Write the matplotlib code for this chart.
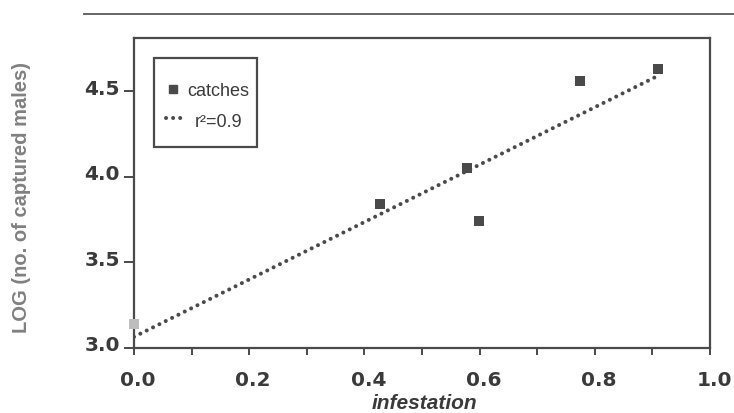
import matplotlib
matplotlib.use("Agg")
import matplotlib.pyplot as plt
import matplotlib.transforms as mtransforms
from matplotlib.lines import Line2D
from matplotlib.patches import Rectangle

# catches
infestation = [0.0, 0.427, 0.578, 0.599, 0.774, 0.910]
log_catches = [3.14, 3.84, 4.05, 3.74, 4.56, 4.63]

# regression line end points (r2 = 0.9)
fit_x = [0.0, 0.91]
fit_y = [3.065, 4.59]

x_ticks = [0.0, 0.2, 0.4, 0.6, 0.8, 1.0]
y_ticks = [3.0, 3.5, 4.0, 4.5]
legend_labels = ['catches', 'r\u00b2=0.9']

plt.rcParams['font.family'] = ['Liberation Sans', 'DejaVu Sans']

W, H = 734, 414
dark = '#4a4a4a'
txt = '#3a3a3a'
dotted = dict(color=dark, lw=2.9, dashes=(0.01, 1.75), dash_capstyle='round')

def fx(x):
    return x / W

def fy(y):
    return 1 - y / H

fig = plt.figure(figsize=(W / 100, H / 100), dpi=100)
ax = fig.add_axes([fx(134), fy(349), fx(710) - fx(134), fy(39) - fy(349)])

ax.plot(fit_x, fit_y, zorder=2, **dotted)
face = ['#bdbdbd'] + [dark] * (len(infestation) - 1)
ax.scatter(infestation, log_catches, marker='s', s=48, c=face,
           edgecolors='none', zorder=3, clip_on=False)

ax.set_xlim(0, 1.0)
ax.set_ylim(3.0, 4.81)
ax.set_xticks(x_ticks)
ax.set_xticklabels([f'{v:.1f}' for v in x_ticks])
ax.set_xticks([0.1, 0.3, 0.5, 0.7, 0.9], minor=True)
ax.set_yticks(y_ticks)
ax.set_yticklabels([f'{v:.1f}' for v in y_ticks])

for s in ax.spines.values():
    s.set_color(dark)
    s.set_linewidth(1.6)

ax.tick_params(axis='both', which='both', direction='out', color=dark,
               width=1.4, length=5, labelcolor=txt)
ax.tick_params(axis='x', pad=11)
ax.tick_params(axis='y', length=7, pad=3)
right = mtransforms.ScaledTranslation(4 / 100, 0, fig.dpi_scale_trans)
up = mtransforms.ScaledTranslation(0, 5 / 100, fig.dpi_scale_trans)
for lab in ax.get_xticklabels():
    lab.set_fontproperties(dict(family='DejaVu Sans', weight='bold', size=14.5))
    lab.set_transform(lab.get_transform() + right)
for lab in ax.get_yticklabels():
    lab.set_fontproperties(dict(family='DejaVu Sans', weight='bold', size=14.5))
    lab.set_transform(lab.get_transform() + up)

ax.set_xlabel('infestation', fontsize=15, fontweight='bold', style='italic',
              color=txt)
ax.xaxis.set_label_coords(0.505, -0.145)
ax.set_ylabel('LOG (no. of captured males)', fontsize=14.5, fontweight='bold',
              color='#808080')
ax.yaxis.set_label_coords(-0.179, 0.49)

# legend box, drawn by hand so its padding matches the scan
fig.add_artist(Rectangle((fx(154), fy(148)), fx(257) - fx(154), fy(59) - fy(148),
                         transform=fig.transFigure, fill=False,
                         edgecolor=dark, lw=1.6))
fig.add_artist(Line2D([fx(173)], [fy(90)], marker='s', markersize=5.5,
                      color=dark, ls='none', transform=fig.transFigure))
fig.add_artist(Line2D([fx(166), fx(185)], [fy(119), fy(119)],
                      transform=fig.transFigure, **dotted))
fig.text(fx(187), fy(90), legend_labels[0], fontsize=13, color=txt,
         va='center_baseline', ha='left')
fig.text(fx(195), fy(121), legend_labels[1], fontsize=13, color=txt,
         va='center_baseline', ha='left')

# rule above the figure
fig.add_artist(Line2D([fx(84), 1.0], [fy(15), fy(15)], color='#666666', lw=1.4))

fig.savefig('out.png', dpi=100)
